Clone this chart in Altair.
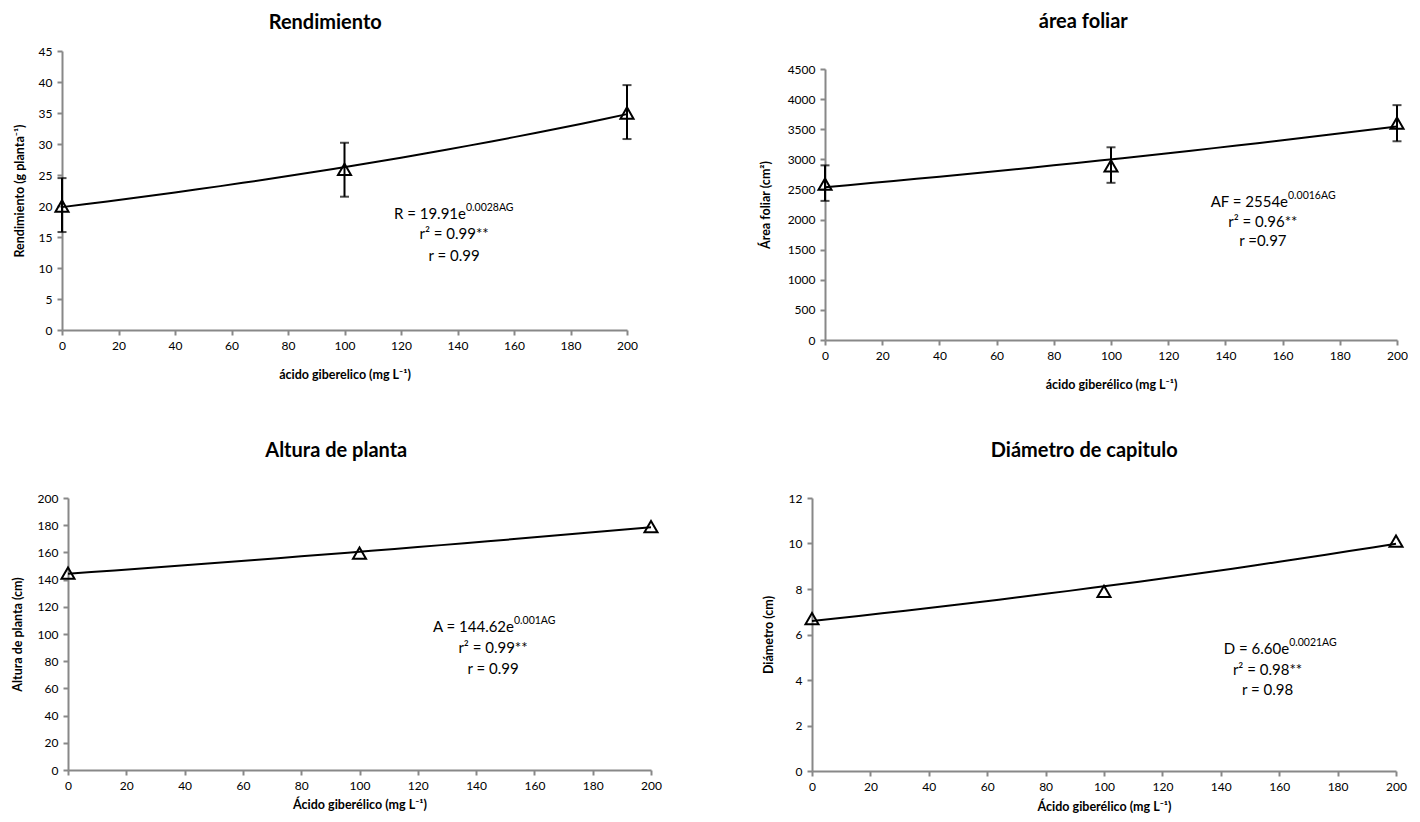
import altair as alt
import pandas as pd

# ---------------- data ----------------
dose = [0, 100, 200]

rend_mean = [20.0, 25.9, 35.0]
rend_lo = [15.8, 21.5, 30.8]
rend_hi = [24.5, 30.2, 39.5]

af_mean = [2590, 2890, 3600]
af_lo = [2310, 2610, 3300]
af_hi = [2900, 3200, 3900]

alt_mean = [144.8, 159.5, 179.0]

diam_mean = [6.7, 7.9, 10.1]

FONT = "Lato"
GREY = "#888888"


def panel(title, ytitle, xtitle, ys, lo, hi, ymax, ystep, eq_main, eq_sup,
          line2, line3, ann_split, ann_center, ann_y, w, h, title_offset,
          xtitle_y, ytitle_x, top_gap=0, left_gap=0):
    df = pd.DataFrame({"x": dose, "y": ys})
    W = w + left_gap
    H = h + top_gap
    xscale = alt.Scale(domain=[0, 200], nice=False, zero=False,
                       range=[left_gap, W])
    yscale = alt.Scale(domain=[0, ymax], nice=False, range=[H, top_gap])
    xaxis = alt.Axis(values=list(range(0, 201, 20)), title=xtitle, format="d",
                     titleY=xtitle_y, titleBaseline="middle", labelPadding=5,
                     labelFlush=False)
    yvals = list(range(0, ymax + 1, ystep))
    yaxis = alt.Axis(values=yvals, title=ytitle, format="d", labelPadding=5,
                     titleX=ytitle_x, titleBaseline="middle",
                     labelFlush=False, offset=-left_gap)
    X = alt.X("x:Q", scale=xscale, axis=xaxis)

    base = alt.Chart(df).encode(x=X, y=alt.Y("y:Q", scale=yscale, axis=yaxis))
    layers = []
    if lo is not None:
        edf = pd.DataFrame({"x": dose, "lo": lo, "hi": hi})
        ebase = alt.Chart(edf).encode(x=X)
        layers.append(ebase.mark_rule(color="black", strokeWidth=2).encode(
            y=alt.Y("lo:Q", scale=yscale, axis=yaxis), y2="hi:Q"))
        layers.append(ebase.mark_tick(color="black", orient="horizontal",
                                      size=9, thickness=2).encode(
            y=alt.Y("lo:Q", scale=yscale, axis=yaxis)))
        layers.append(ebase.mark_tick(color="black", orient="horizontal",
                                      size=9, thickness=2).encode(
            y=alt.Y("hi:Q", scale=yscale, axis=yaxis)))
    trend = base.transform_regression("x", "y", method="exp",
                                      extent=[0, 200]).mark_line(
        color="black", strokeWidth=2)
    pts = base.mark_point(shape="triangle-up", size=170, filled=False,
                          color="black", strokeWidth=2, opacity=1)
    layers += [trend, pts]

    # annotation (equation and statistics)
    main_df = pd.DataFrame({"x": [ann_split], "y": [ann_y[0]], "t": [eq_main]})
    sup_df = pd.DataFrame({"x": [ann_split], "y": [ann_y[0]], "t": [eq_sup]})
    rest_df = pd.DataFrame({"x": [ann_center, ann_center],
                            "y": [ann_y[1], ann_y[2]], "t": [line2, line3]})

    def txt(d, **kw):
        return alt.Chart(d).mark_text(font=FONT, color="black",
                                      baseline="middle", **kw).encode(
            x=X, y=alt.Y("y:Q", scale=yscale, axis=yaxis), text="t:N")

    layers.append(txt(main_df, align="right", fontSize=15))
    layers.append(txt(sup_df, align="left", fontSize=10.5, dy=-6))
    layers.append(txt(rest_df, align="center", fontSize=15))

    return alt.layer(*layers).properties(
        width=W, height=H,
        title=alt.TitleParams(title, font=FONT, fontSize=20, fontWeight="bold",
                              anchor="middle", frame="bounds",
                              offset=title_offset, color="black"))


p1 = panel("Rendimiento", "Rendimiento (g planta⁻¹)",
           "ácido giberelico (mg L⁻¹)", rend_mean, rend_lo, rend_hi, 45, 5,
           "R = 19.91e", "0.0028AG", "r² = 0.99**", "r = 0.99",
           143.0, 138.8, [18.7, 15.5, 11.9], 565, 279, 12, 44, -43)

p2 = panel("área foliar", "Área foliar (cm²)",
           "ácido giberélico (mg L⁻¹)", af_mean, af_lo, af_hi, 4500, 500,
           "AF = 2554e", "0.0016AG", "r² = 0.96**", "r =0.97",
           161.9, 153.1, [2291, 1959, 1644], 572, 271, 19, 44, -60,
           top_gap=18)

p3 = panel("Altura de planta", "Altura de planta (cm)",
           "Ácido giberélico (mg L⁻¹)", alt_mean, None, None, 200, 20,
           "A = 144.62e", "0.001AG", "r² = 0.99**", "r = 0.99",
           153.0, 145.8, [105.1, 89.7, 74.3], 583, 272, 31, 34, -51,
           left_gap=6)

p4 = panel("Diámetro de capitulo", "Diámetro (cm)",
           "Ácido giberélico (mg L⁻¹)", diam_mean, None, None, 12, 2,
           "D = 6.60e", "0.0021AG", "r² = 0.98**", "r = 0.98",
           163.4, 156.0, [5.36, 4.44, 3.56], 584, 273, 31, 35, -44)

row1 = alt.hconcat(p1, p2, spacing=121)
row2 = alt.hconcat(p3, p4, spacing=100)

chart = alt.vconcat(row1, row2, spacing=50).properties(
    padding={"left": 3, "top": 4, "right": 0, "bottom": 0}
).configure_view(stroke=None).configure_axis(
    grid=False, domainColor=GREY, domainWidth=2, tickColor=GREY, tickWidth=2,
    tickSize=5, labelFont=FONT, labelFontSize=12, labelColor="black",
    titleFont=FONT, titleFontSize=12.5, titleFontWeight="bold",
    titleColor="black"
)

chart.save("out.html", embed_options={"renderer": "svg", "actions": False})
